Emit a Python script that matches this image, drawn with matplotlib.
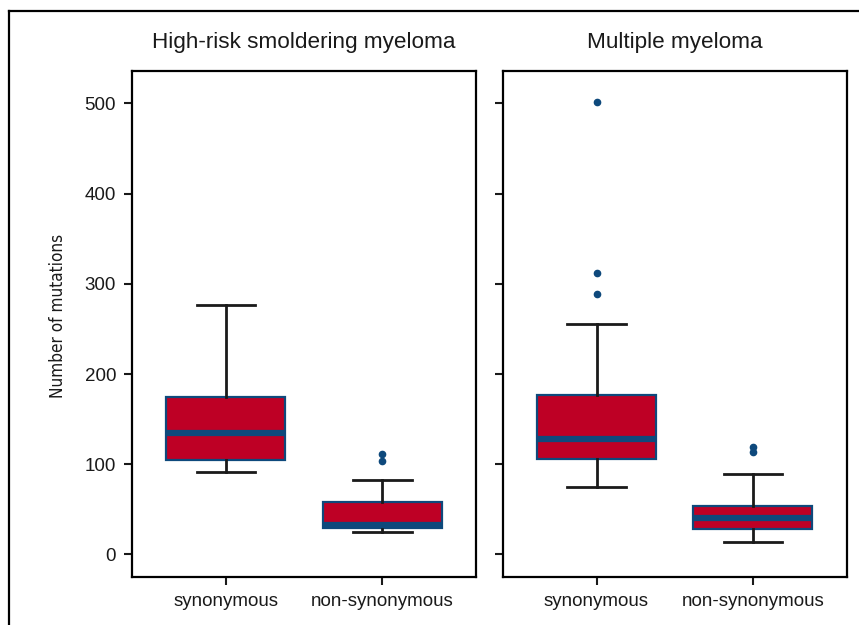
import matplotlib
matplotlib.use("Agg")
import matplotlib.pyplot as plt
from matplotlib.lines import Line2D

plt.rcParams['font.family'] = ['Liberation Sans', 'DejaVu Sans']

# box statistics (number of mutations)
categories = ['synonymous', 'non-synonymous']
panels = ['High-risk smoldering myeloma', 'Multiple myeloma']

hrsmm_med = [135, 33]
hrsmm_q1 = [105, 29]
hrsmm_q3 = [175, 58]
hrsmm_lo = [91, 25]
hrsmm_hi = [277, 83]
hrsmm_fliers = [[], [104, 111]]

mm_med = [128, 40]
mm_q1 = [106, 28]
mm_q3 = [177, 54]
mm_lo = [75, 14]
mm_hi = [256, 89]
mm_fliers = [[289, 312, 502], [114, 119]]

yticks = [0, 100, 200, 300, 400, 500]

red = '#BE0025'
navy = '#0E497C'


def make_stats(med, q1, q3, lo, hi, fliers):
    stats = []
    for i in range(len(med)):
        stats.append({'med': med[i], 'q1': q1[i], 'q3': q3[i],
                      'whislo': lo[i], 'whishi': hi[i], 'fliers': fliers[i]})
    return stats


all_stats = [make_stats(hrsmm_med, hrsmm_q1, hrsmm_q3, hrsmm_lo, hrsmm_hi, hrsmm_fliers),
             make_stats(mm_med, mm_q1, mm_q3, mm_lo, mm_hi, mm_fliers)]

fig = plt.figure(figsize=(8.59, 6.25), dpi=100)
ax1 = fig.add_axes([0.1537, 0.0768, 0.4005, 0.8096])
ax2 = fig.add_axes([0.5852, 0.0768, 0.4005, 0.8096], sharey=ax1)

for ax, stats, title in zip([ax1, ax2], all_stats, panels):
    ax.bxp(stats, positions=range(len(categories)), widths=0.76, capwidths=0.375,
           patch_artist=True, showfliers=True,
           boxprops=dict(facecolor=red, edgecolor=navy, linewidth=1.6),
           medianprops=dict(color=navy, linewidth=4.5, solid_capstyle='butt'),
           whiskerprops=dict(color='#1a1a1a', linewidth=2),
           capprops=dict(color='#1a1a1a', linewidth=2),
           flierprops=dict(marker='o', markersize=4.5, markerfacecolor=navy,
                           markeredgecolor=navy))
    ax.set_xlim(-0.6, 1.6)
    ax.set_ylim(-25, 536)
    ax.set_xticks(range(len(categories)))
    ax.set_xticklabels(categories)
    ax.set_yticks(yticks)
    for s in ax.spines.values():
        s.set_linewidth(1.6)
    ax.tick_params(length=5.5, width=1.5, labelsize=13.5, pad=6, colors='#1a1a1a')
    ax.text(0.5, 1.045, title, transform=ax.transAxes, ha='center', va='baseline',
            fontsize=16.2, color='#1a1a1a')

ax2.tick_params(axis='y', labelleft=False)
ax1.set_ylabel('Number of mutations', fontsize=12.3, family='DejaVu Sans',
               stretch='condensed', color='#1a1a1a')
ax1.yaxis.set_label_coords(-0.19, 0.515)

# frame around the figure, cut off at the right and bottom
fig.add_artist(Line2D([9 / 859, 1.0], [1 - 11 / 625, 1 - 11 / 625],
                      color='black', linewidth=1.6, transform=fig.transFigure))
fig.add_artist(Line2D([9 / 859, 9 / 859], [0.0, 1 - 11 / 625],
                      color='black', linewidth=1.6, transform=fig.transFigure))

plt.savefig('out.png', dpi=100)
